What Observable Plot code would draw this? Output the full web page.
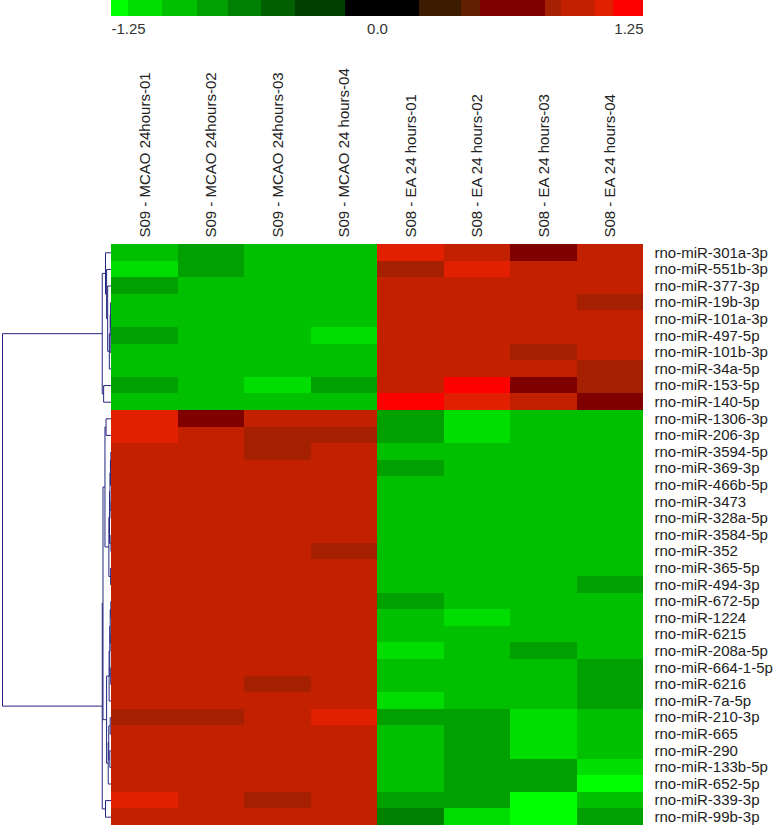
<!DOCTYPE html>
<html><head><meta charset="utf-8">
<script src="https://cdn.jsdelivr.net/npm/d3@7"></script>
<script src="https://cdn.jsdelivr.net/npm/@observablehq/plot@0.6"></script>
<style>
body{margin:0;background:#fff;}
#wrap{position:relative;width:782px;height:827px;overflow:hidden;}
#wrap svg{position:absolute;top:0;left:0;}
</style></head><body><div id="wrap"></div>
<script>
const columns = ["S09 - MCAO 24hours-01","S09 - MCAO 24hours-02","S09 - MCAO 24hours-03","S09 - MCAO 24 hours-04",
  "S08 - EA 24 hours-01","S08 - EA 24 hours-02","S08 - EA 24 hours-03","S08 - EA 24 hours-04"];
const rows = ["rno-miR-301a-3p","rno-miR-551b-3p","rno-miR-377-3p","rno-miR-19b-3p","rno-miR-101a-3p","rno-miR-497-5p",
  "rno-miR-101b-3p","rno-miR-34a-5p","rno-miR-153-5p","rno-miR-140-5p","rno-miR-1306-3p","rno-miR-206-3p",
  "rno-miR-3594-5p","rno-miR-369-3p","rno-miR-466b-5p","rno-miR-3473","rno-miR-328a-5p","rno-miR-3584-5p",
  "rno-miR-352","rno-miR-365-5p","rno-miR-494-3p","rno-miR-672-5p","rno-miR-1224","rno-miR-6215",
  "rno-miR-208a-5p","rno-miR-664-1-5p","rno-miR-6216","rno-miR-7a-5p","rno-miR-210-3p","rno-miR-665",
  "rno-miR-290","rno-miR-133b-5p","rno-miR-652-5p","rno-miR-339-3p","rno-miR-99b-3p"];
const values = [
  [-0.95,-0.78,-0.95,-0.95, 1.06,0.95,0.60,0.95],
  [-1.10,-0.78,-0.95,-0.95, 0.83,1.06,0.95,0.95],
  [-0.78,-0.95,-0.95,-0.95, 0.95,0.95,0.95,0.95],
  [-0.95,-0.95,-0.95,-0.95, 0.95,0.95,0.95,0.83],
  [-0.95,-0.95,-0.95,-0.95, 0.95,0.95,0.95,0.95],
  [-0.78,-0.95,-0.95,-1.10, 0.95,0.95,0.95,0.95],
  [-0.95,-0.95,-0.95,-0.95, 0.95,0.95,0.83,0.95],
  [-0.95,-0.95,-0.95,-0.95, 0.95,0.95,0.95,0.83],
  [-0.78,-0.95,-1.10,-0.78, 0.95,1.20,0.60,0.83],
  [-0.95,-0.95,-0.95,-0.95, 1.20,1.06,0.95,0.60],
  [1.06,0.60,0.95,0.95, -0.78,-1.10,-0.95,-0.95],
  [1.06,0.95,0.83,0.83, -0.78,-1.10,-0.95,-0.95],
  [0.95,0.95,0.83,0.95, -0.95,-0.95,-0.95,-0.95],
  [0.95,0.95,0.95,0.95, -0.78,-0.95,-0.95,-0.95],
  [0.95,0.95,0.95,0.95, -0.95,-0.95,-0.95,-0.95],
  [0.95,0.95,0.95,0.95, -0.95,-0.95,-0.95,-0.95],
  [0.95,0.95,0.95,0.95, -0.95,-0.95,-0.95,-0.95],
  [0.95,0.95,0.95,0.95, -0.95,-0.95,-0.95,-0.95],
  [0.95,0.95,0.95,0.83, -0.95,-0.95,-0.95,-0.95],
  [0.95,0.95,0.95,0.95, -0.95,-0.95,-0.95,-0.95],
  [0.95,0.95,0.95,0.95, -0.95,-0.95,-0.95,-0.78],
  [0.95,0.95,0.95,0.95, -0.78,-0.95,-0.95,-0.95],
  [0.95,0.95,0.95,0.95, -0.95,-1.10,-0.95,-0.95],
  [0.95,0.95,0.95,0.95, -0.95,-0.95,-0.95,-0.95],
  [0.95,0.95,0.95,0.95, -1.10,-0.95,-0.78,-0.95],
  [0.95,0.95,0.95,0.95, -0.95,-0.95,-0.95,-0.78],
  [0.95,0.95,0.83,0.95, -0.95,-0.95,-0.95,-0.78],
  [0.95,0.95,0.95,0.95, -1.10,-0.95,-0.95,-0.78],
  [0.83,0.83,0.95,1.06, -0.78,-0.78,-1.10,-0.95],
  [0.95,0.95,0.95,0.95, -0.95,-0.78,-1.10,-0.95],
  [0.95,0.95,0.95,0.95, -0.95,-0.78,-1.10,-0.95],
  [0.95,0.95,0.95,0.95, -0.95,-0.78,-0.78,-1.10],
  [0.95,0.95,0.95,0.95, -0.95,-0.78,-0.78,-1.20],
  [1.06,0.95,0.83,0.95, -0.78,-0.78,-1.20,-0.95],
  [0.95,0.95,0.95,0.95, -0.62,-1.10,-1.20,-0.78]
];
// colour bar bins (value edges) and colours
const legendEdges = [-1.25,-1.17,-1.01,-0.846,-0.70,-0.545,-0.385,-0.15,0.197,0.397,0.484,0.79,0.867,1.024,1.109,1.25];
const legendColors = ["#00ff00","#00dd00","#00c000","#00a000","#008000","#006000","#004000","#000000",
  "#3c1c00","#602000","#800000","#a52000","#c32000","#e02000","#ff0000"];
const legendTicks = [-1.25, 0, 1.25];
const legendTickLabels = ["-1.25","0.0","1.25"];
// hierarchical clustering merges: [node, childA, childB, height]
const merges = [
  ["t1",4,5,0.004],["t2",3,"t1",0.008],["t3","t2",6,0.012],["t4","t3",7,0.02],["t5",2,"t4",0.035],
  ["t6",1,"t5",0.045],["t7",0,"t6",0.055],["t8",8,9,0.072],["top","t7","t8",0.085],
  ["a1",10,11,0.05],["b1",12,13,0.006],["b2","b1",14,0.01],["b3",15,16,0.004],["b4","b2","b3",0.014],
  ["b5",17,18,0.005],["b6","b4","b5",0.018],["b7",19,20,0.008],["b8","b6","b7",0.024],["m1","a1","b8",0.06],
  ["c1",21,22,0.006],["c2",23,24,0.005],["c3","c1","c2",0.012],["c4",25,26,0.007],["c5","c3","c4",0.016],
  ["c6","c5",27,0.022],["d1",28,29,0.012],["d2",30,31,0.015],["d3","d1","d2",0.025],["d4","d3",32,0.03],
  ["m2","c6","d4",0.045],["e1",33,34,0.055],["m3","m1","m2",0.078],["bottom","m3","e1",0.085],
  ["root","top","bottom",1.0]
];

const font = "'Liberation Sans', Arial, sans-serif";
const colorScale = {type: "threshold", domain: legendEdges.slice(1, -1), range: legendColors};
const wrap = document.getElementById("wrap");
const W = 782, H = 827, ML = 111, MR = 139, MT = 244, MB = 2;

// heatmap
const cells = rows.flatMap((r, i) => columns.map((c, j) => ({row: r, col: c, value: values[i][j]})));
const heat = Plot.plot({
  width: W, height: H, marginLeft: ML, marginRight: MR, marginTop: MT, marginBottom: MB,
  style: {background: "transparent", fontFamily: font, fontSize: "15px", color: "#222"},
  x: {domain: columns, axis: "top", padding: 0, round: false, tickSize: 0, tickPadding: 7, tickRotate: -90, label: null},
  y: {domain: rows, axis: "right", padding: 0, round: false, tickSize: 0, tickPadding: 11, label: null},
  color: colorScale,
  marks: [Plot.cell(cells, {x: "col", y: "row", fill: "value", inset: 0, shapeRendering: "crispEdges"})]
});
wrap.appendChild(heat);

// dendrogram
const nodePos = new Map(), nodeH = new Map();
const pos = k => typeof k === "number" ? k + 0.5 : nodePos.get(k);
const ht = k => typeof k === "number" ? 0 : nodeH.get(k);
const segs = [];
for (const [name, a, b, h] of merges) {
  const ya = pos(a), yb = pos(b);
  segs.push({x1: ht(a), x2: h, y1: ya, y2: ya});
  segs.push({x1: ht(b), x2: h, y1: yb, y2: yb});
  segs.push({x1: h, x2: h, y1: ya, y2: yb});
  nodePos.set(name, (ya + yb) / 2); nodeH.set(name, h);
}
const dendro = Plot.plot({
  width: ML, height: H, marginLeft: 2, marginRight: 0, marginTop: MT, marginBottom: MB,
  style: {background: "transparent"},
  x: {domain: [1, 0], axis: null},
  y: {domain: [0, rows.length], reverse: true, axis: null},
  marks: [Plot.link(segs, {x1: "x1", y1: "y1", x2: "x2", y2: "y2", stroke: "#24247e", strokeWidth: 1})]
});
wrap.appendChild(dendro);

// colour bar
const bins = legendEdges.slice(0, -1).map((e, i) => ({x1: e, x2: legendEdges[i + 1], v: (e + legendEdges[i + 1]) / 2}));
const tickData = legendTicks.map((t, i) => ({t, label: legendTickLabels[i]}));
const textOpts = {x: "t", text: "label", frameAnchor: "bottom", lineAnchor: "top", dy: 7, fill: "#333", fontSize: 15};
const bar = Plot.plot({
  width: W, height: 45, marginLeft: ML, marginRight: MR, marginTop: 0, marginBottom: 29,
  style: {background: "transparent", fontFamily: font, fontSize: "15px", overflow: "visible"},
  x: {domain: [legendEdges[0], legendEdges[legendEdges.length - 1]], axis: null},
  color: colorScale,
  marks: [
    Plot.rect(bins, {x1: "x1", x2: "x2", fill: "v", shapeRendering: "crispEdges"}),
    Plot.text(tickData.slice(0, 1), {...textOpts, textAnchor: "start"}),
    Plot.text(tickData.slice(1, 2), {...textOpts, textAnchor: "middle"}),
    Plot.text(tickData.slice(2), {...textOpts, textAnchor: "end"})
  ]
});
wrap.appendChild(bar);
</script></body></html>
